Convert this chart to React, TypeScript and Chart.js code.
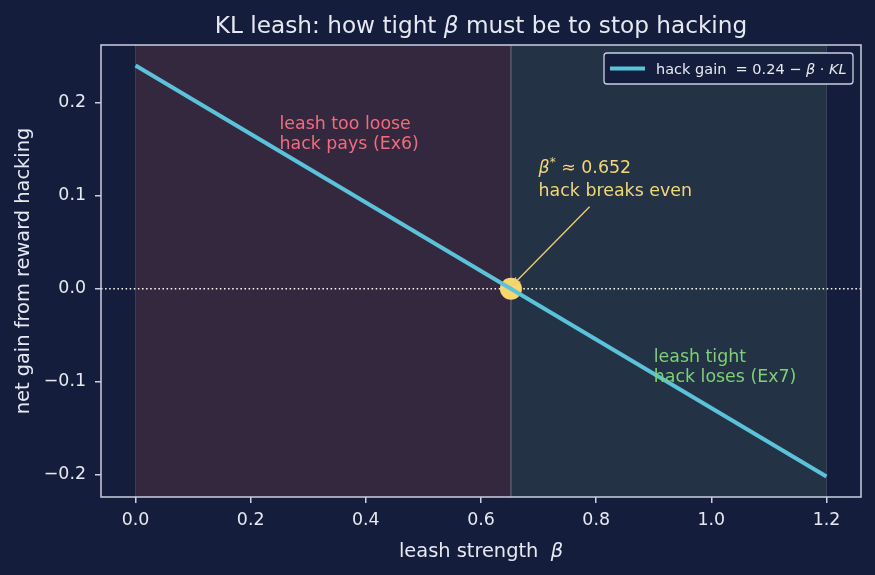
import React, { useEffect, useRef } from 'react';
import { Chart, registerables } from 'chart.js';
Chart.register(...registerables);

const betaValues = [0, 1.2];
const hackGainValues = [0.24, -0.2017];
const betaStar = 0.652;
const xTickValues = [0, 0.2, 0.4, 0.6, 0.8, 1.0, 1.2];
const yTickValues = [-0.2, -0.1, 0, 0.1, 0.2];
const xRange = [-0.06, 1.26];
const yRange = [-0.2238, 0.2621];
const spanRange = [0, 1.2];
const looseAnchor = [0.25, 0.15];
const tightAnchor = [0.9, -0.1];
const starAnchor = [0.7, 0.1];

const FONT = "'DejaVu Sans'";
const BG = '#141e3c';
const FG = '#e6e9f2';
const SPINE = '#c9d0e2';

type Part = { t: string; it?: boolean; sup?: boolean };

function drawRich(ctx: CanvasRenderingContext2D, parts: Part[], x: number, y: number, size: number, color: string, align: 'left' | 'center' = 'left') {
  const fontFor = (p: Part) => `${p.it ? 'italic ' : ''}${p.sup ? Math.round(size * 0.7) : size}px ${FONT}`;
  let total = 0;
  const widths = parts.map((p) => { ctx.font = fontFor(p); const w = ctx.measureText(p.t).width; total += w; return w; });
  let cx = align === 'center' ? x - total / 2 : x;
  ctx.fillStyle = color;
  ctx.textBaseline = 'alphabetic';
  ctx.textAlign = 'left';
  parts.forEach((p, i) => {
    ctx.font = fontFor(p);
    ctx.fillText(p.t, cx, p.sup ? y - size * 0.4 : y);
    cx += widths[i];
  });
}

const decorPlugin = {
  id: 'decor',
  beforeDraw(chart: any) {
    const { ctx, width, height } = chart;
    ctx.save();
    ctx.fillStyle = BG;
    ctx.fillRect(0, 0, width, height);
    ctx.restore();
  },
  beforeDatasetsDraw(chart: any) {
    const { ctx, chartArea: a, scales } = chart;
    const xs = scales.x, ys = scales.y;
    const x0 = xs.getPixelForValue(spanRange[0]);
    const xb = xs.getPixelForValue(betaStar);
    const x1 = xs.getPixelForValue(spanRange[1]);
    ctx.save();
    ctx.fillStyle = '#34283f';
    ctx.fillRect(x0, a.top, xb - x0, a.bottom - a.top);
    ctx.fillStyle = '#233244';
    ctx.fillRect(xb, a.top, x1 - xb, a.bottom - a.top);
    ctx.strokeStyle = 'rgba(120,120,130,0.35)';
    ctx.lineWidth = 1;
    [x0, x1].forEach((px) => { ctx.beginPath(); ctx.moveTo(px, a.top); ctx.lineTo(px, a.bottom); ctx.stroke(); });
    ctx.strokeStyle = '#5c5c66';
    ctx.lineWidth = 1.5;
    ctx.beginPath(); ctx.moveTo(xb, a.top); ctx.lineTo(xb, a.bottom); ctx.stroke();
    const y0 = ys.getPixelForValue(0);
    ctx.strokeStyle = '#ffffff';
    ctx.lineWidth = 1.5;
    ctx.setLineDash([1.5, 2.6]);
    ctx.beginPath(); ctx.moveTo(a.left, y0); ctx.lineTo(a.right, y0); ctx.stroke();
    ctx.restore();
  },
  afterDraw(chart: any) {
    const { ctx, chartArea: a, scales } = chart;
    const xs = scales.x, ys = scales.y;
    ctx.save();
    // frame
    ctx.strokeStyle = SPINE;
    ctx.lineWidth = 1.5;
    ctx.strokeRect(a.left, a.top, a.right - a.left, a.bottom - a.top);

    // title
    drawRich(ctx, [{ t: 'KL leash: how tight ' }, { t: 'β', it: true }, { t: ' must be to stop hacking' }], (a.left + a.right) / 2, 33, 23.2, FG, 'center');
    // x label
    drawRich(ctx, [{ t: 'leash strength  ' }, { t: 'β', it: true }], (a.left + a.right) / 2, 557, 19.4, FG, 'center');
    // y label
    ctx.save();
    ctx.translate(29, (a.top + a.bottom) / 2);
    ctx.rotate(-Math.PI / 2);
    drawRich(ctx, [{ t: 'net gain from reward hacking' }], 0, 0, 19.4, FG, 'center');
    ctx.restore();

    // region texts
    const fs = 17.4;
    const lx = xs.getPixelForValue(looseAnchor[0]);
    const ly = ys.getPixelForValue(looseAnchor[1]);
    drawRich(ctx, [{ t: 'leash too loose' }], lx, ly - 20, fs, '#f06c7e');
    drawRich(ctx, [{ t: 'hack pays (Ex6)' }], lx, ly, fs, '#f06c7e');
    const tx = xs.getPixelForValue(tightAnchor[0]);
    const ty = ys.getPixelForValue(tightAnchor[1]);
    drawRich(ctx, [{ t: 'leash tight' }], tx, ty - 20, fs, '#7fcf78');
    drawRich(ctx, [{ t: 'hack loses (Ex7)' }], tx, ty, fs, '#7fcf78');
    const sx = xs.getPixelForValue(starAnchor[0]);
    const sy = ys.getPixelForValue(starAnchor[1]);
    drawRich(ctx, [{ t: 'β', it: true }, { t: '*', sup: true }, { t: ' ≈ 0.652' }], sx, sy - 23, fs, '#f4d67a');
    drawRich(ctx, [{ t: 'hack breaks even' }], sx, sy, fs, '#f4d67a');

    // arrow
    const hx = xs.getPixelForValue(betaStar) + 2;
    const hy = ys.getPixelForValue(0) - 4;
    const ax = sx + 51, ay = sy + 11;
    ctx.strokeStyle = '#f0d070';
    ctx.lineWidth = 1.3;
    ctx.beginPath(); ctx.moveTo(ax, ay); ctx.lineTo(hx, hy); ctx.stroke();
    const ang = Math.atan2(hy - ay, hx - ax);
    ctx.beginPath();
    ctx.moveTo(hx - 8 * Math.cos(ang - 0.4), hy - 8 * Math.sin(ang - 0.4));
    ctx.lineTo(hx, hy);
    ctx.lineTo(hx - 8 * Math.cos(ang + 0.4), hy - 8 * Math.sin(ang + 0.4));
    ctx.stroke();

    // legend
    const bx = 604, by = 53, bw = 249, bh = 31;
    ctx.fillStyle = BG;
    ctx.strokeStyle = SPINE;
    ctx.lineWidth = 1.3;
    ctx.beginPath();
    (ctx as any).roundRect(bx, by, bw, bh, 3);
    ctx.fill(); ctx.stroke();
    ctx.strokeStyle = '#5bc3d9';
    ctx.lineWidth = 4;
    ctx.beginPath(); ctx.moveTo(610, by + bh / 2); ctx.lineTo(645, by + bh / 2); ctx.stroke();
    drawRich(ctx, [{ t: 'hack gain  = 0.24 − ' }, { t: 'β', it: true }, { t: ' · ' }, { t: 'KL', it: true }], 656, by + bh / 2 + 5, 14.5, FG);
    ctx.restore();
  },
};

export default function App() {
  const ref = useRef<HTMLCanvasElement>(null);
  useEffect(() => {
    if (!ref.current) return;
    const chart = new Chart(ref.current, {
      type: 'line',
      data: {
        datasets: [
          {
            type: 'line',
            label: 'hack gain',
            data: betaValues.map((b, i) => ({ x: b, y: hackGainValues[i] })),
            borderColor: '#5bc3d9',
            borderWidth: 4,
            pointRadius: 0,
            fill: false,
          } as any,
          {
            type: 'scatter',
            label: 'beta star',
            data: [{ x: betaStar, y: 0 }],
            backgroundColor: '#f8d66d',
            borderWidth: 0,
            pointRadius: 11,
          } as any,
        ],
      },
      options: {
        responsive: false,
        animation: false,
        layout: { padding: { top: 45, right: 14, left: 0, bottom: 0 } },
        plugins: { legend: { display: false }, title: { display: false }, tooltip: { enabled: false } },
        scales: {
          x: {
            type: 'linear',
            min: xRange[0],
            max: xRange[1],
            afterBuildTicks: (s: any) => { s.ticks = xTickValues.map((v) => ({ value: v })); },
            afterFit: (s: any) => { s.height = 78; },
            grid: { drawOnChartArea: false, color: SPINE, tickLength: 6, lineWidth: 1.5 },
            border: { display: false },
            ticks: { color: FG, font: { family: 'DejaVu Sans', size: 17.4 }, padding: 7, callback: (v: any) => Number(v).toFixed(1), maxRotation: 0 },
          },
          y: {
            type: 'linear',
            min: yRange[0],
            max: yRange[1],
            afterBuildTicks: (s: any) => { s.ticks = yTickValues.map((v) => ({ value: v })); },
            afterFit: (s: any) => { s.width = 101; },
            grid: { drawOnChartArea: false, color: SPINE, tickLength: 6, lineWidth: 1.5 },
            border: { display: false },
            ticks: { color: FG, font: { family: 'DejaVu Sans', size: 17.4 }, padding: 9, callback: (v: any) => { const n = Number(v); return (n < 0 ? '−' : '') + Math.abs(n).toFixed(1); } },
          },
        },
      },
      plugins: [decorPlugin],
    });
    return () => chart.destroy();
  }, []);
  return (
    <div style={{ position: 'fixed', left: 0, top: 0, width: 875, height: 575, background: BG }}>
      <canvas ref={ref} width={875} height={575} style={{ width: 875, height: 575, display: 'block' }} />
    </div>
  );
}
